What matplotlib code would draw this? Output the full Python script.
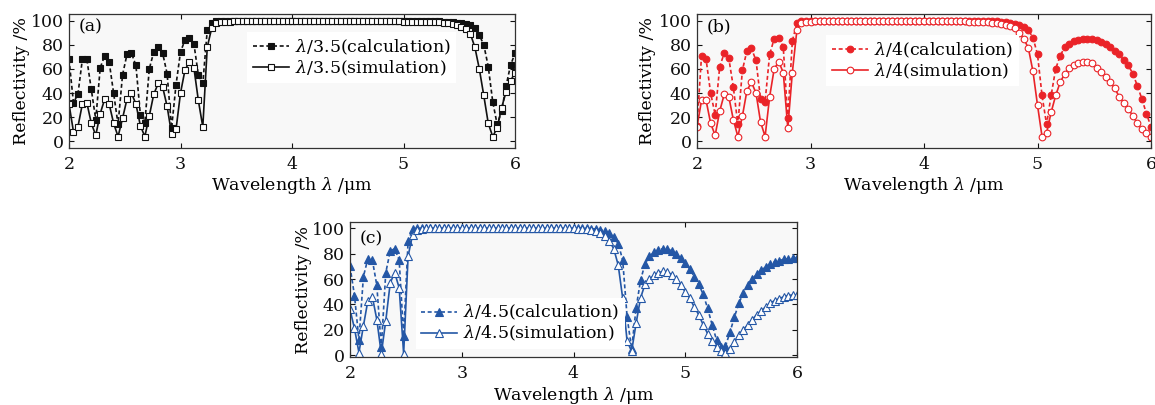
import numpy as np
import matplotlib
matplotlib.use('Agg')
import matplotlib.pyplot as plt

plt.rcParams['font.family'] = ['DejaVu Serif']
plt.rcParams['mathtext.fontset'] = 'dejavuserif'

wavelength = np.round(np.linspace(2.0, 6.0, 101), 2)

a_calc = [68, 32, 39, 68, 68, 43, 18, 61, 71, 66,
          40, 14, 55, 72, 73, 63, 22, 15, 60, 74,
          78, 73, 56, 11, 47, 74, 84, 86, 81, 55,
          48, 92, 98, 99.5, 99.8, 99.9, 99.9, 100, 100, 100,
          100, 100, 100, 100, 100, 100, 100, 100, 100, 100,
          100, 100, 100, 100, 100, 100, 100, 100, 100, 100,
          100, 100, 100, 100, 100, 100, 100, 100, 100, 100,
          100, 100, 100, 100, 100, 100, 99.9, 99.9, 99.8, 99.8,
          99.7, 99.6, 99.5, 99.3, 99.1, 98.9, 98.6, 98.3, 97.9, 97.4,
          96.5, 94, 88, 80, 62, 33, 14, 25, 46, 63, 73]
a_sim = [31, 8, 12, 31, 32, 15, 5, 23, 35, 31,
         15, 4, 19, 35, 40, 31, 13, 4, 21, 39,
         48, 45, 29, 6, 10, 40, 59, 66, 61, 34,
         12, 78, 94, 98, 98.8, 99, 99.2, 99.3, 99.3, 99.3,
         99.3, 99.3, 99.3, 99.3, 99.3, 99.3, 99.3, 99.3, 99.3, 99.3,
         99.3, 99.3, 99.3, 99.3, 99.3, 99.3, 99.3, 99.3, 99.3, 99.3,
         99.3, 99.3, 99.3, 99.3, 99.3, 99.3, 99.3, 99.3, 99.3, 99.3,
         99.3, 99.3, 99.3, 99.3, 99.3, 99.2, 99.2, 99.2, 99.2, 99.1,
         99.1, 99, 98.8, 98.6, 98.3, 97.8, 97.2, 96.3, 95, 93,
         89, 78, 60, 38, 15, 4, 11, 28, 41, 50, 57]

b_calc = [13, 71, 68, 40, 22, 62, 73, 69, 45, 14,
          59, 75, 77, 67, 35, 33, 72, 85, 86, 78,
          19, 83, 98, 99.6, 99.9, 100, 100, 100, 100, 100,
          100, 100, 100, 100, 100, 100, 100, 100, 100, 100,
          100, 100, 100, 100, 100, 100, 100, 100, 100, 100,
          100, 100, 100, 100, 100, 100, 100, 100, 100, 100,
          100, 100, 99.9, 99.8, 99.7, 99.5, 99.3, 99, 98.6, 98.1,
          97.4, 96.5, 95, 92, 86, 72, 38, 14, 38, 60,
          71, 78, 81, 83, 84, 85, 85, 84.5, 84, 82.5,
          80.5, 78, 75, 72, 67, 63, 56, 46, 35, 23, 12]
b_sim = [12, 34, 34, 15, 5, 25, 39, 37, 18, 4,
         21, 42, 49, 40, 16, 4, 37, 60, 66, 57,
         11, 57, 92, 98, 99, 99.2, 99.3, 99.3, 99.3, 99.3,
         99.3, 99.3, 99.3, 99.3, 99.3, 99.3, 99.3, 99.3, 99.3, 99.3,
         99.3, 99.3, 99.3, 99.3, 99.3, 99.3, 99.3, 99.3, 99.3, 99.3,
         99.3, 99.3, 99.3, 99.3, 99.3, 99.3, 99.3, 99.3, 99.3, 99.3,
         99.2, 99.1, 99, 98.8, 98.5, 98.2, 97.8, 97.2, 96.4, 95.3,
         93.5, 90, 85, 77, 58, 30, 4, 7, 24, 38,
         49, 56, 61, 63, 65, 66, 66, 64.5, 61, 57.5,
         53, 49, 44, 37, 32, 27, 21, 15, 10, 7, 4]

c_calc = [70, 47, 12, 62, 76, 75, 55, 6, 65, 82,
          84, 75, 15, 90, 99.5, 100, 100, 100, 100, 100,
          100, 100, 100, 100, 100, 100, 100, 100, 100, 100,
          100, 100, 100, 100, 100, 100, 100, 100, 100, 100,
          100, 100, 100, 100, 100, 100, 100, 100, 100, 100,
          100, 100, 100, 99.9, 99.7, 99.5, 99, 98, 96.5, 93,
          88, 75, 30, 5, 37, 59, 72, 78, 81, 83,
          84, 84, 82, 79.5, 76.5, 73, 68, 62, 56, 48,
          37, 24, 12, 6, 7, 18, 30, 41, 49, 55,
          60, 64, 67, 69.5, 72, 73.5, 74.5, 75.5, 76, 76.5, 76.5]
c_sim = [36, 21, 2, 23, 43, 46, 28, 1, 27, 57,
         65, 53, 1, 78, 95, 99, 99.8, 100, 100, 100,
         100, 100, 100, 100, 100, 100, 100, 100, 100, 100,
         100, 100, 100, 100, 100, 100, 100, 100, 100, 100,
         100, 100, 100, 100, 100, 100, 100, 100, 100, 100,
         100, 99.8, 99.6, 99.5, 99, 98, 96.5, 94, 90, 84,
         71, 45, 11, 3, 25, 45, 56, 60, 63, 65,
         66, 65.5, 63.5, 60, 55, 50, 45, 38, 32, 24,
         17, 11, 6, 3, 2, 5, 10, 16, 20, 24,
         28, 32, 35, 38, 41, 43, 44.5, 46, 47, 47.5, 47.5]

for s in (a_calc, a_sim, b_calc, b_sim, c_calc, c_sim):
    assert len(s) == len(wavelength), len(s)

panel_tags = ['(a)', '(b)', '(c)']
thickness_labels = ['3.5', '4', '4.5']
colors = ['#111111', '#ea2328', '#2457a6']
markers = ['s', 'o', '^']
msizes = [4.3, 4.8, 5.2]
xticks = [2, 3, 4, 5, 6]
yticks = [0, 20, 40, 60, 80, 100]

# axes rectangles in pixels: left, right, top, bottom
W, H = 1155, 405
rects_px = [(69, 515, 14, 148), (697, 1151, 14, 148), (350, 797, 222, 357)]
ylims = [(-5.5, 105.5), (-5.5, 105.5), (-1.5, 105)]
legend_anchor = [(0.40, 0.675), (0.285, 0.652), (0.147, 0.250)]
tag_y = [0.965, 0.965, 0.935]
ylabel_x = [-0.088, -0.090, -0.086]

series = [(a_calc, a_sim), (b_calc, b_sim), (c_calc, c_sim)]

fig = plt.figure(figsize=(W / 100, H / 100), dpi=100)
FS = 12.5

for k in range(3):
    l, r, t, b = rects_px[k]
    ax = fig.add_axes([l / W, 1 - b / H, (r - l) / W, (b - t) / H])
    ax.set_facecolor('#f8f8f8')
    col = colors[k]
    calc, sim = series[k]
    ax.plot(wavelength, calc, linestyle=(0, (2.4, 1.6)), lw=1.2, color=col,
            marker=markers[k], ms=msizes[k], mfc=col, mec=col, mew=0.8,
            label=r'$\lambda$/' + thickness_labels[k] + '(calculation)')
    ax.plot(wavelength, sim, linestyle='-', lw=1.2, color=col,
            marker=markers[k], ms=msizes[k], mfc='white', mec=col, mew=0.8,
            label=r'$\lambda$/' + thickness_labels[k] + '(simulation)')
    ax.set_xlim(2, 6)
    ax.set_ylim(*ylims[k])
    ax.set_xticks(xticks)
    ax.set_yticks(yticks)
    ax.tick_params(direction='in', length=3.5, width=0.8, top=True, right=True,
                   labelsize=FS, colors='#111111')
    ax.tick_params(axis='x', pad=6)
    ax.tick_params(axis='y', pad=4)
    for sp in ax.spines.values():
        sp.set_color('#333333')
        sp.set_linewidth(0.9)
    ax.set_xlabel(r'Wavelength $\lambda$ /μm', fontsize=FS)
    ax.set_ylabel('Reflectivity /%', fontsize=FS)
    ax.xaxis.set_label_coords(0.5, -0.205)
    ax.yaxis.set_label_coords(ylabel_x[k], 0.5)
    ax.text(0.022, tag_y[k], panel_tags[k], transform=ax.transAxes,
            ha='left', va='top', fontsize=FS)
    leg = ax.legend(loc='center left', bbox_to_anchor=legend_anchor[k],
                    fontsize=FS, frameon=True, fancybox=False, framealpha=1,
                    facecolor='white', edgecolor='none', borderpad=0.3,
                    borderaxespad=0, handlelength=2.1, handletextpad=0.35,
                    labelspacing=0.1, numpoints=1)

fig.savefig('out.png', dpi=100, facecolor='white')
